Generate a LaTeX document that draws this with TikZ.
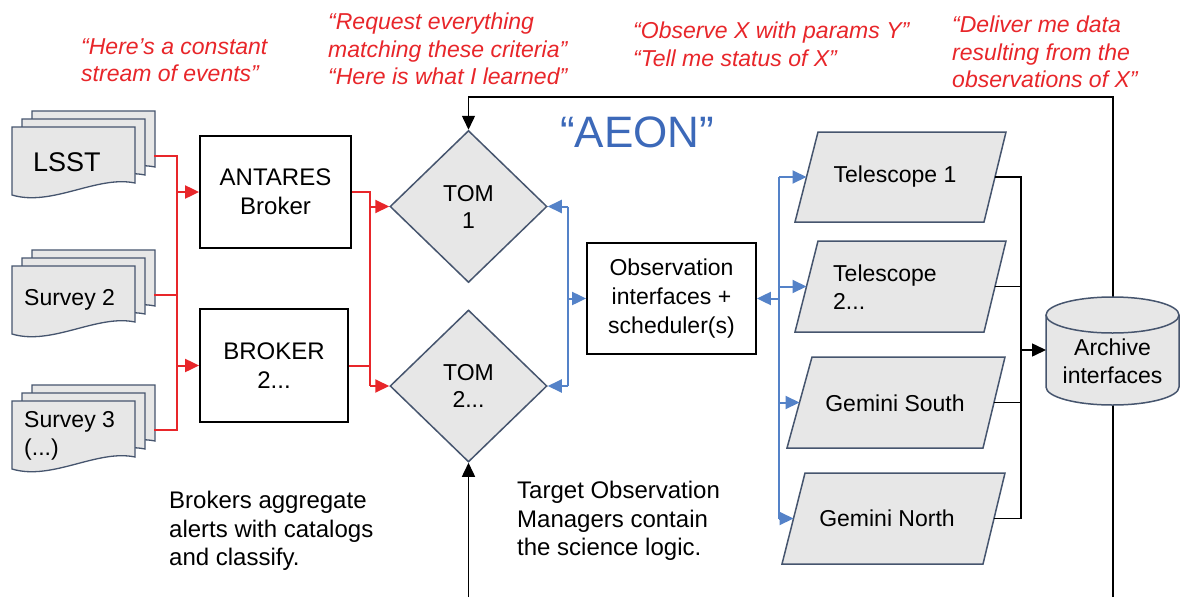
\documentclass[tikz,border=0pt]{standalone}
\usepackage{fontspec}
\setmainfont{Liberation Sans}
\usetikzlibrary{arrows.meta,shapes.geometric}
\definecolor{redc}{RGB}{232,38,42}
\definecolor{linkblue}{RGB}{84,130,200}
\definecolor{aeonblue}{RGB}{60,105,185}
\definecolor{shapefill}{RGB}{231,231,231}
\definecolor{shapeedge}{RGB}{70,85,110}
\tikzset{
  docstack/.pic={
    \foreach \o in {20,10,0}{
      \filldraw[page] (\o,-0.8*\o) -- (\o+123,-0.8*\o) -- (\o+123,56-0.8*\o)
        .. controls (\o+85,48-0.8*\o) and (\o+40,80-0.8*\o) .. (\o,68-0.8*\o) -- cycle;
    }
  }
}
\begin{document}
\begin{tikzpicture}[x=1pt,y=-1pt,
  tipstyle/.style={-{Triangle[length=14pt,width=13pt]}},
  redl/.style={draw=redc,line width=2pt},
  redarr/.style={redl,tipstyle},
  bluel/.style={draw=linkblue,line width=2pt},
  bluearr/.style={bluel,tipstyle},
  blkl/.style={draw=black,line width=1.5pt},
  blkarr/.style={blkl,tipstyle},
  page/.style={fill=shapefill,draw=shapeedge,line width=1.3pt},
  pgram/.style={fill=shapefill,draw=shapeedge,line width=1.5pt},
  boxnode/.style={draw=black,line width=1.8pt,fill=white,inner sep=0pt,align=center,font=\fontsize{24}{29}\selectfont},
  tomnode/.style={diamond,draw=shapeedge,fill=shapefill,line width=1.5pt,inner sep=0pt,minimum width=157pt,minimum height=152pt,align=center,font=\fontsize{23}{27}\selectfont},
  doctext/.style={inner sep=0pt,font=\fontsize{23}{28}\selectfont,align=left},
  shapetext/.style={inner sep=0pt,font=\fontsize{23}{28}\selectfont,align=center},
  redtext/.style={inner sep=0pt,text=redc,align=left,font=\fontsize{23}{27.5}\selectfont\itshape},
  notetext/.style={inner sep=0pt,align=left,font=\fontsize{24}{28.5}\selectfont},
]
\useasboundingbox (0,0) rectangle (1180,597);
\fill[white] (0,0) rectangle (1180,597);

% annotations
\node[redtext,anchor=north west] (ann1) at (81,38) {“Here’s a constant\\stream of events”};
\node[redtext,anchor=north west] (ann2) at (328,13) {“Request everything\\matching these criteria”\\“Here is what I learned”};
\node[redtext,anchor=north west] (ann3) at (633,22) {“Observe X with params Y”\\“Tell me status of X”};
\node[redtext,anchor=north west] (ann4) at (952,16) {“Deliver me data\\resulting from the\\observations of X”};
\node[notetext,anchor=north west] (note1) at (169,491) {Brokers aggregate\\alerts with catalogs\\and classify.};
\node[notetext,anchor=north west] (note2) at (517,481) {Target Observation\\Managers contain\\the science logic.};
\node[inner sep=0pt,text=aeonblue,font=\fontsize{44}{50}\selectfont] (aeon) at (637,132) {“AEON”};

% surveys
\pic at (12,127) {docstack};
\pic at (12,266) {docstack};
\pic at (12,401) {docstack};
\node[doctext,anchor=west,font=\fontsize{27}{30}\selectfont] (lsst) at (33,162) {LSST};
\node[doctext,anchor=west] (survey2) at (24,300) {Survey 2};
\node[doctext,anchor=west] (survey3) at (24,436) {Survey 3\\(...)};
\coordinate (lsst-out) at (154,156);
\coordinate (s2-out) at (154,295);
\coordinate (s3-out) at (154,430);

% brokers
\node[boxnode,minimum width=151pt,minimum height=112pt] (antares) at (275.5,192) {ANTARES\\Broker};
\node[boxnode,minimum width=148pt,minimum height=113pt] (broker) at (274,365.5) {BROKER\\2...};

% TOMs
\node[tomnode] (tom1) at (468.5,206.5) {TOM\\1};
\node[tomnode] (tom2) at (468.5,386) {TOM\\2...};

% observation interfaces
\node[boxnode,font=\fontsize{23}{29}\selectfont,minimum width=169pt,minimum height=111pt] (obs) at (671.5,298.5) {Observation\\interfaces +\\scheduler(s)};

% telescopes
\filldraw[pgram] (818,132) -- (1006,132) -- (984,222) -- (795,222) -- cycle;
\filldraw[pgram] (818,241) -- (1006,241) -- (984,332) -- (795,332) -- cycle;
\filldraw[pgram] (812,357) -- (1005,357) -- (983,448) -- (787,448) -- cycle;
\filldraw[pgram] (805,473) -- (1005,473) -- (983,564) -- (782,564) -- cycle;
\node[shapetext] (tel1) at (895,177) {Telescope 1};
\node[doctext,anchor=west] (tel2) at (833,287) {Telescope\\2...};
\node[shapetext] (gsouth) at (895,403) {Gemini South};
\node[shapetext] (gnorth) at (887,518) {Gemini North};
\coordinate (tel1-w) at (806.5,177);
\coordinate (tel1-e) at (995,177);
\coordinate (tel2-w) at (806.5,286.5);
\coordinate (tel2-e) at (995,286.5);
\coordinate (gs-w) at (799.5,402.5);
\coordinate (gs-e) at (994,402.5);
\coordinate (gn-w) at (793.5,518.5);
\coordinate (gn-e) at (994,518.5);

% feedback loop (behind archive)
\coordinate (fb-r-bot) at (1113,597);
\coordinate (fb-r-top) at (1113,97);
\coordinate (fb-l-bot) at (468.5,597);
\draw[blkarr] (fb-r-bot) -- (fb-r-top) -| (tom1.north);
\draw[blkarr] (fb-l-bot) -- (tom2.south);

% archive cylinder
\filldraw[pgram] (1046,315) -- (1046,387) arc[start angle=180,end angle=360,x radius=66.5pt,y radius=18pt]
  -- (1179,315) arc[start angle=0,end angle=180,x radius=66.5pt,y radius=18pt] -- cycle;
\draw[shapeedge,line width=1.5pt] (1046,315) arc[start angle=180,end angle=360,x radius=66.5pt,y radius=18pt];
\node[shapetext] (archive) at (1112.5,361) {Archive\\interfaces};
\coordinate (arch-w) at (1046,350);

% red connectors
\coordinate (rbusA) at (177,0);
\coordinate (rbusB) at (370,0);
\draw[redl] (lsst-out) -| (rbusA |- s3-out) -- (s3-out);
\draw[redl] (s2-out) -- (rbusA |- s2-out);
\draw[redarr] (rbusA |- antares.west) -- (antares.west);
\draw[redarr] (rbusA |- broker.west) -- (broker.west);
\draw[redl] (antares.east) -| (rbusB |- tom2.west);
\draw[redl] (broker.east) -- (rbusB |- broker.east);
\draw[redarr] (rbusB |- tom1.west) -- (tom1.west);
\draw[redarr] (rbusB |- tom2.west) -- (tom2.west);

% blue connectors
\coordinate (bbusA) at (568,0);
\coordinate (bbusB) at (779,0);
\draw[bluel] (bbusA |- tom1.east) -- (bbusA |- tom2.east);
\draw[bluearr] (bbusA |- tom1.east) -- (tom1.east);
\draw[bluearr] (bbusA |- tom2.east) -- (tom2.east);
\draw[bluearr] (bbusA |- obs.west) -- (obs.west);
\draw[bluel] (bbusB |- tel1-w) -- (bbusB |- gn-w);
\draw[bluearr] (bbusB |- obs.east) -- (obs.east);
\draw[bluearr] (bbusB |- tel1-w) -- (tel1-w);
\draw[bluearr] (bbusB |- tel2-w) -- (tel2-w);
\draw[bluearr] (bbusB |- gs-w) -- (gs-w);
\draw[bluearr] (bbusB |- gn-w) -- (gn-w);

% black connectors to archive
\coordinate (kbus) at (1021,0);
\draw[blkl] (tel1-e) -| (kbus |- gn-e) -- (gn-e);
\draw[blkl] (tel2-e) -- (kbus |- tel2-e);
\draw[blkl] (gs-e) -- (kbus |- gs-e);
\draw[blkarr] (kbus |- arch-w) -- (arch-w);
\end{tikzpicture}
\end{document}
